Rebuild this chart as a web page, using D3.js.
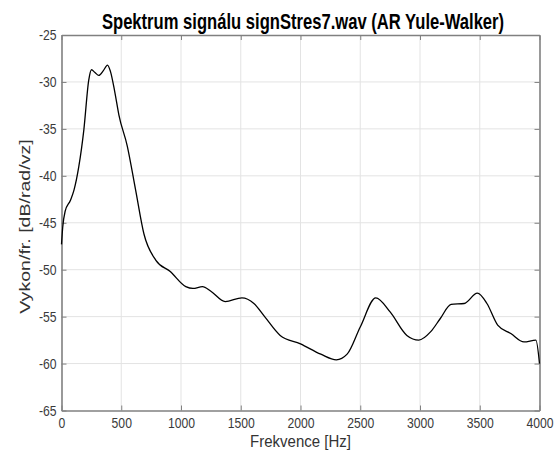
<!DOCTYPE html>
<html>
<head>
<meta charset="utf-8">
<script src="https://cdn.jsdelivr.net/npm/d3@7"></script>
<style>
  html, body { margin: 0; padding: 0; background: #fff; }
  svg { display: block; font-family: "Liberation Sans", Arial, Helvetica, sans-serif; }
</style>
</head>
<body>
<svg id="chart" width="556" height="452"></svg>
<script>
const titleText = "Spektrum signálu signStres7.wav (AR Yule-Walker)";
const xLabel = "Frekvence [Hz]";
const yLabel = "Vykon/fr. [dB/rad/vz]";
const xTicks = [0, 500, 1000, 1500, 2000, 2500, 3000, 3500, 4000];
const yTicks = [-65, -60, -55, -50, -45, -40, -35, -30, -25];

const freq = [0, 10, 30, 75, 105, 145, 187, 228, 251, 280, 312, 350, 385, 410, 445, 480, 550, 620, 690, 790, 910, 1040, 1100, 1180, 1250, 1370, 1510, 1610, 1700, 1830, 2000, 2170, 2300, 2390, 2500, 2630, 2750, 2890, 2990, 3090, 3170, 3260, 3370, 3480, 3560, 3650, 3760, 3870, 3970, 4000];
const power = [-47.3, -45.5, -43.8, -42.6, -41.5, -39.0, -35.1, -29.8, -28.7, -29.0, -29.3, -28.8, -28.2, -28.9, -31.0, -33.5, -36.8, -41.5, -46.2, -49.0, -50.2, -51.8, -52.0, -51.8, -52.3, -53.4, -53.0, -53.6, -55.0, -57.0, -57.9, -59.0, -59.6, -59.0, -56.1, -53.0, -54.5, -57.0, -57.5, -56.6, -55.2, -53.7, -53.6, -52.5, -53.6, -55.9, -56.8, -57.7, -57.5, -60.0];

const data = freq.map((f, i) => ({ f, p: power[i] }));

const svg = d3.select("#chart");
const W = 556, H = 452;
const m = { left: 61.5, right: 16.5, top: 35, bottom: 41.5 };
const iw = W - m.left - m.right, ih = H - m.top - m.bottom;
const vs = 1.25; // vertical stretch of the text in the reference

const x = d3.scaleLinear().domain([0, 4000]).range([0, iw]);
const y = d3.scaleLinear().domain([-65, -25]).range([ih, 0]);

const g = svg.append("g").attr("transform", `translate(${m.left},${m.top})`);

// grid
g.append("g").selectAll("line").data(xTicks.slice(1, -1)).join("line")
  .attr("x1", d => x(d)).attr("x2", d => x(d)).attr("y1", 0).attr("y2", ih)
  .attr("stroke", "#e3e3e3").attr("stroke-width", 1);
g.append("g").selectAll("line").data(yTicks.slice(1, -1)).join("line")
  .attr("y1", d => y(d)).attr("y2", d => y(d)).attr("x1", 0).attr("x2", iw)
  .attr("stroke", "#e3e3e3").attr("stroke-width", 1);

// axes
const axColor = "#808080";
const fmt = d => String(d);
const xb = g.append("g").attr("transform", `translate(0,${ih})`)
  .call(d3.axisBottom(x).tickValues(xTicks).tickFormat(fmt).tickSizeInner(-5).tickSizeOuter(0).tickPadding(5.7));
const xt = g.append("g")
  .call(d3.axisTop(x).tickValues(xTicks).tickSizeInner(-5).tickSizeOuter(0).tickFormat(""));
const yl = g.append("g")
  .call(d3.axisLeft(y).tickValues(yTicks).tickFormat(fmt).tickSizeInner(-5).tickSizeOuter(0).tickPadding(5));
const yr = g.append("g").attr("transform", `translate(${iw},0)`)
  .call(d3.axisRight(y).tickValues(yTicks).tickSizeInner(-5).tickSizeOuter(0).tickFormat(""));

[xb, xt, yl, yr].forEach(a => {
  a.selectAll(".domain").attr("stroke", axColor).attr("stroke-width", 1.6);
  a.selectAll(".tick line").attr("stroke", axColor).attr("stroke-width", 1);
  a.selectAll(".tick text").attr("fill", "#3a3a3a").attr("font-size", 12.2)
    .attr("font-family", "Liberation Sans, Arial, sans-serif")
    .attr("transform", `scale(1,${vs})`);
});

// line
const line = d3.line().x(d => x(d.f)).y(d => y(d.p)).curve(d3.curveMonotoneX);
g.append("path").datum(data).attr("d", line)
  .attr("fill", "none").attr("stroke", "#000").attr("stroke-width", 1.3);

// labels
svg.append("text").attr("transform", `translate(303,29) scale(1,1.3)`)
  .attr("text-anchor", "middle").attr("font-weight", "bold").attr("font-size", 16.6)
  .attr("fill", "#000").text(titleText);
svg.append("text").attr("transform", `translate(${m.left + iw / 2},447) scale(1,1.12)`)
  .attr("text-anchor", "middle").attr("font-size", 15).attr("fill", "#333").text(xLabel);
svg.append("text").attr("transform", `translate(29.5,226.5) scale(1,1.28) rotate(-90)`)
  .attr("text-anchor", "middle").attr("font-size", 15.3).attr("fill", "#333").text(yLabel);
</script>
</body>
</html>
